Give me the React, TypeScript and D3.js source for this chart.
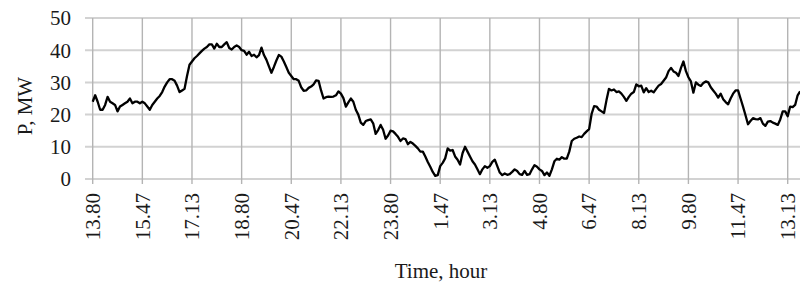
import React, { useEffect, useRef } from "react";
import { select, scaleLinear, line } from "d3";

// one reading every 5 minutes, starting at 13.80 h
const STEP_MIN = 5;
const LABEL_EVERY = 20; // 100 min between time labels

const timeLabels = [
  "13.80", "15.47", "17.13", "18.80", "20.47", "22.13", "23.80", "1.47",
  "3.13", "4.80", "6.47", "8.13", "9.80", "11.47", "13.13",
];

const yTicks = [0, 10, 20, 30, 40, 50];

const power = [
  24, 26, 24, 21.5, 21.5, 23, 25.5, 24, 23.5, 23,
  21, 22.5, 23, 23.5, 24, 25, 23.5, 24, 24, 23.5,
  24, 23.5, 22.5, 21.5, 23, 24, 25, 25.8, 27, 28.7,
  30, 31, 31, 30.5, 29, 27, 27.5, 28, 32, 35.5,
  36.5, 37.5, 38.2, 39, 39.8, 40.5, 41,
  41.8, 41.8, 40.5, 42, 41, 41, 41.8, 42.5, 40.7, 40.2,
  41, 41.5, 41, 40, 39.8, 38.6, 39.5, 38.2, 38.6, 37.8,
  38.5, 40.8, 38.5, 37, 35, 33, 34.8, 36.8, 38.5, 38,
  36.5, 34.8, 33, 32, 31, 31, 30.5, 28.5, 27.4, 27.5,
  28.3, 28.7, 29.4, 30.6, 30.5, 27.5, 25,
  25.4, 25.6, 25.5, 25.6, 26, 27.2, 26.5, 25.1, 22.5, 23.8,
  25, 24, 21.5, 20, 17.5, 16.8, 18, 18.3, 18.5, 17.3,
  14, 15.2, 16.8, 15.3, 12.5, 13.5, 15, 14.8, 14, 13.1,
  11.8, 12.6, 12.4, 10.8, 11.5, 11, 10.3, 9.5, 8.5, 8.5,
  7, 5.3, 3.8, 2.2, 1, 1.2, 4,
  5, 6.4, 9.5, 8.8, 9, 7, 6, 4.5, 8, 10,
  8.5, 7, 5.5, 4.5, 3, 1.5, 3, 4, 3.5, 4,
  5.3, 6, 4, 2, 1.2, 1.7, 1.3, 1.5, 2.2, 3,
  2.5, 1.5, 1.3, 2.5, 1.3, 1.5, 3, 4.3, 3.8, 3,
  2.5, 1.2, 2, 1, 3, 5.5,
  6.3, 6, 6.8, 6.3, 6.3, 8.5, 11.8, 12.5, 12.8, 13.2,
  13, 14, 14.8, 15.5, 20.2, 22.6, 22.5, 21.5, 21, 20.5,
  24.5, 28, 27.5, 27.8, 27, 27.2, 26.5, 25.5, 24.3, 25.5,
  26.5, 27, 29.4, 28.8, 29, 26.9, 28.2, 27, 27.4, 26.9,
  28, 29, 29.5, 30.5, 31.5, 33.5,
  34.5, 33.4, 33, 32, 34.5, 36.5, 33.5, 31.6, 30.3, 26.8,
  30, 29.3, 28.9, 29.8, 30.3, 30, 28.5, 27.5, 26.5, 25.3,
  26.5, 24.8, 23.9, 23.2, 25, 26.5, 27.5, 27.5, 25, 22.5,
  19.8, 17, 18, 18.9, 18.6, 18.5, 18.9, 17.2, 16.5, 17.8,
  18, 17.5, 17.2, 16.8, 18.5, 21, 21, 19.5, 22.5, 22.3,
  23, 26, 27.2,
];

const FONT = "'Liberation Serif', 'Times New Roman', serif";

const App = () => {
  const svgRef = useRef(null);

  useEffect(() => {
    const svg = select(svgRef.current);
    svg.selectAll("*").remove();
    const width = 800;

    const minutes = power.map((_, i) => i * STEP_MIN);
    const lastLabelMin = (timeLabels.length - 1) * LABEL_EVERY * STEP_MIN;

    const x = scaleLinear().domain([0, lastLabelMin]).range([92.7, 787.7]);
    const y = scaleLinear().domain([0, 50]).range([179, 18]);

    // horizontal grid
    svg.append("g")
      .selectAll("line")
      .data(yTicks)
      .join("line")
      .attr("x1", 85)
      .attr("x2", width)
      .attr("y1", d => y(d))
      .attr("y2", d => y(d))
      .attr("stroke", "#d2d2d2")
      .attr("stroke-width", 2);

    // vertical grid / category ticks
    svg.append("g")
      .selectAll("line")
      .data(timeLabels)
      .join("line")
      .attr("x1", (_, i) => x(i * LABEL_EVERY * STEP_MIN))
      .attr("x2", (_, i) => x(i * LABEL_EVERY * STEP_MIN))
      .attr("y1", y(50))
      .attr("y2", y(0) + 5)
      .attr("stroke", "#b4b4b4")
      .attr("stroke-width", 1.4);

    // y labels
    svg.append("g")
      .selectAll("text")
      .data(yTicks)
      .join("text")
      .attr("x", 71)
      .attr("y", d => y(d))
      .attr("dy", "0.35em")
      .attr("text-anchor", "end")
      .attr("font-family", FONT)
      .attr("font-size", 21)
      .attr("fill", "#1a1a1a")
      .text(d => d);

    // x labels (rotated)
    svg.append("g")
      .selectAll("text")
      .data(timeLabels)
      .join("text")
      .attr("transform", (_, i) => `translate(${x(i * LABEL_EVERY * STEP_MIN)},193) rotate(-90)`)
      .attr("dy", "0.35em")
      .attr("text-anchor", "end")
      .attr("font-family", FONT)
      .attr("font-size", 21)
      .attr("fill", "#1a1a1a")
      .text(d => d);

    const pathGen = line<number>()
      .x((_, i) => x(minutes[i]))
      .y(d => y(d));

    svg.append("path")
      .datum(power)
      .attr("d", pathGen)
      .attr("fill", "none")
      .attr("stroke", "#000")
      .attr("stroke-width", 2.3)
      .attr("stroke-linejoin", "round");

    svg.append("text")
      .attr("transform", "translate(25,106) rotate(-90)")
      .attr("dy", "0.35em")
      .attr("text-anchor", "middle")
      .attr("font-family", FONT)
      .attr("font-size", 21)
      .attr("fill", "#1a1a1a")
      .text("P, MW");

    svg.append("text")
      .attr("x", 441)
      .attr("y", 278)
      .attr("text-anchor", "middle")
      .attr("font-family", FONT)
      .attr("font-size", 21)
      .attr("fill", "#1a1a1a")
      .text("Time, hour");
  }, []);

  return (
    <svg
      ref={svgRef}
      width={800}
      height={284}
      style={{ position: "absolute", left: 0, top: 0, background: "#fff" }}
    />
  );
};

export default App;
